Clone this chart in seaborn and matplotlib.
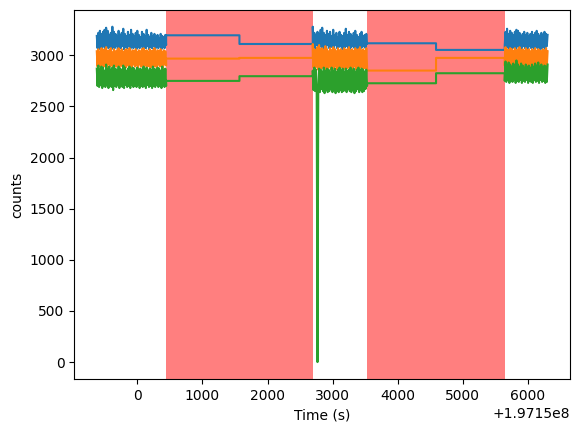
import numpy as np
import pandas as pd
import matplotlib
matplotlib.use("Agg")
import matplotlib.pyplot as plt
import seaborn as sns

T0 = 197150000  # time offset

# segment time ranges (seconds relative to T0)
seg1_range = (-625, 441)
seg2_range = (2695, 3530)
seg3_range = (5646, 6305)

# flagged intervals (red spans)
spans = [(441, 2695), (3530, 5646)]

# gap (interpolated) knots
gap1_x = [441, 1568, 1568, 2695]
gap2_x = [3530, 4590, 4590, 5646]

blue1 = [3190,3070,3220,3060,3240,3080,3210,3070,3230,3090,
         3250,3060,3270,3080,3240,3070,3200,3090,3220,3060,
         3280,3080,3230,3070,3210,3090,3190,3060,3240,3080,
         3200,3070,3220,3090,3260,3060,3210,3080,3190,3070,
         3230,3090,3200,3060,3250,3080,3210,3070,3190,3090,
         3220,3060,3240,3080,3200,3070,3180,3090,3230,3060,
         3210,3080,3190,3070,3250,3090,3200,3060,3180,3080,
         3220,3070,3190,3090,3210,3060,3180,3080,3200,3070,
         3170,3090,3210,3060,3190,3080,3180,3070,3200,3100]
orange1 = [3040,2890,3060,2900,3030,2880,3070,2910,3050,2890,
           3060,2900,3080,2880,3040,2910,3050,2890,3070,2900,
           3030,2880,3060,2910,3040,2890,3050,2900,3070,2880,
           3040,2910,3060,2890,3030,2900,3050,2880,3060,2910,
           3040,2890,3070,2900,3030,2880,3050,2910,3040,2890,
           3060,2900,3030,2880,3050,2910,3040,2890,3060,2900,
           3070,2880,3040,2910,3050,2890,3030,2900,3060,2880,
           3040,2910,3050,2890,3070,2900,3030,2880,3050,2910,
           3040,2890,3060,2900,3030,2880,3050,2910,3040,2900]
green1 = [2870,2700,2900,2690,2860,2710,2890,2680,2880,2700,
          2850,2690,2910,2710,2870,2680,2890,2700,2860,2690,
          2880,2660,2900,2700,2870,2690,2850,2710,2890,2680,
          2870,2700,2860,2690,2900,2680,2880,2710,2850,2690,
          2870,2700,2890,2680,2860,2710,2880,2690,2870,2700,
          2850,2690,2880,2710,2860,2680,2870,2700,2850,2690,
          2890,2700,2860,2680,2880,2710,2850,2690,2870,2700,
          2860,2680,2890,2700,2870,2690,2850,2710,2880,2690,
          2870,2700,2850,2680,2890,2710,2860,2690,2870,2700]

blue_gap1 = [3196, 3196, 3111, 3111]
orange_gap1 = [2968, 2968, 2975, 2975]
green_gap1 = [2750, 2750, 2796, 2796]

blue2 = [3280,3090,3220,3070,3200,3100,3230,3060,3210,3090,
         3250,3080,3270,3070,3220,3090,3200,3060,3240,3100,
         3210,3070,3230,3080,3190,3090,3250,3060,3200,3100,
         3220,3070,3180,3080,3230,3090,3200,3060,3190,3070,
         3220,3080,3260,3090,3200,3070,3230,3060,3210,3080,
         3190,3090,3220,3070,3240,3080,3200,3060,3180,3090,
         3210,3070,3230,3080,3190,3090,3200,3070,3210,3110]
orange2 = [3110,2880,3060,2870,3050,2890,3080,2860,3100,2880,
           3060,2870,3070,2890,3050,2860,3090,2880,3060,2870,
           3040,2890,3070,2860,3050,2880,3080,2870,3060,2890,
           3040,2860,3070,2880,3050,2870,3060,2890,3040,2860,
           3070,2880,3050,2870,3060,2890,3080,2860,3050,2880,
           3060,2870,3040,2890,3070,2860,3050,2880,3060,2870,
           3080,2890,3050,2860,3060,2880,3040,2870,3070,2890]
green2 = [2850,2660,2880,2650,2860,2640,0,2650,2870,2640,
          2860,2670,2840,2650,2880,2630,2850,2660,2870,2640,
          2860,2650,2830,2670,2880,2640,2850,2660,2870,2630,
          2840,2650,2860,2640,2880,2660,2850,2640,2870,2650,
          2840,2660,2870,2640,2850,2670,2860,2650,2880,2640,
          2850,2660,2870,2630,2840,2650,2860,2670,2880,2640,
          2850,2660,2870,2640,2860,2650,2840,2670,2860,2700]

blue_gap2 = [3118, 3118, 3053, 3053]
orange_gap2 = [2851, 2851, 2975, 2975]
green_gap2 = [2727, 2727, 2825, 2825]

blue3 = [3100,3230,3070,3260,3080,3210,3060,3240,3090,3220,
         3070,3200,3080,3230,3060,3250,3090,3240,3070,3220,
         3080,3190,3060,3210,3090,3230,3070,3200,3080,3220,
         3060,3190,3090,3210,3070,3230,3080,3200,3060,3220,
         3090,3240,3070,3210,3080,3190,3060,3220,3070,3200,
         3080,3230,3060,3210,3090,3200]
orange3 = [2900,3080,2890,3060,2910,3050,2880,3070,2900,3060,
           2890,3040,2910,3070,2880,3050,2900,3060,2890,3080,
           2910,3050,2880,3060,2900,3040,2890,3070,2910,3050,
           2880,3060,2900,3040,2890,3060,2880,3050,2910,3070,
           2890,3040,2900,3060,2880,3050,2910,3040,2890,3060,
           2900,3050,2880,3070,2890,3040]
green3 = [2750,2940,2740,2900,2760,2930,2730,2910,2750,2890,
          2740,2920,2760,2900,2730,2950,2750,2910,2740,2890,
          2760,2920,2730,2900,2750,2880,2740,2910,2760,2890,
          2730,2900,2750,2880,2740,2910,2730,2890,2760,2920,
          2740,2900,2750,2930,2730,2890,2760,2910,2740,2880,
          2750,2900,2730,2890,2740,2910]

series_names = ["blue", "orange", "green"]
colors = ["#1f77b4", "#ff7f0e", "#2ca02c"]

t1 = np.linspace(*seg1_range, len(blue1))
t2 = np.linspace(*seg2_range, len(blue2))
t3 = np.linspace(*seg3_range, len(blue3))
time_all = np.concatenate([t1, gap1_x, t2, gap2_x, t3]) + T0

vals = {
    "blue": blue1 + blue_gap1 + blue2 + blue_gap2 + blue3,
    "orange": orange1 + orange_gap1 + orange2 + orange_gap2 + orange3,
    "green": green1 + green_gap1 + green2 + green_gap2 + green3,
}

frames = []
for name in series_names:
    frames.append(pd.DataFrame({"time": time_all, "counts": vals[name], "series": name}))
df = pd.concat(frames, ignore_index=True)

fig, ax = plt.subplots(figsize=(5.8, 4.32), dpi=100)
fig.subplots_adjust(left=0.128, right=0.983, top=0.977, bottom=0.123)

for a, b in spans:
    ax.axvspan(T0 + a, T0 + b, color="red", alpha=0.5, lw=0, zorder=1)

sns.lineplot(data=df, x="time", y="counts", hue="series", hue_order=series_names,
             palette=colors, estimator=None, sort=False, legend=False,
             linewidth=1.5, ax=ax, zorder=2)

ax.set_xlabel("Time (s)")
ax.set_ylabel("counts")

fig.savefig("out.png", dpi=100)
